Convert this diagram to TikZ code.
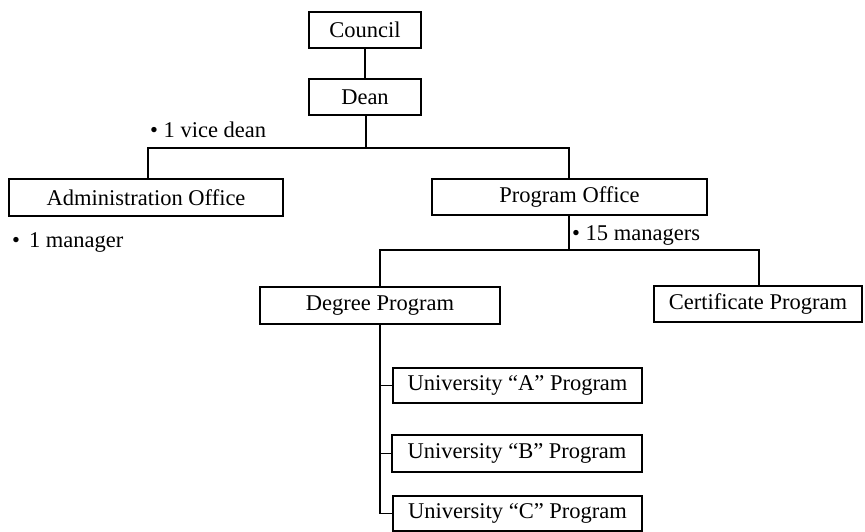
\documentclass[tikz,border=0pt]{standalone}
\usepackage{fontspec}
\setmainfont{Liberation Serif}
\begin{document}
\begin{tikzpicture}[x=1pt,y=-1pt,
  orgbox/.style={draw, line width=1.2pt, inner sep=0pt, align=center,
    font=\fontsize{22.5}{27}\selectfont},
  note/.style={inner sep=0pt, anchor=base west, font=\fontsize{22.5}{27}\selectfont},
  link/.style={line width=1.8pt}]
\useasboundingbox (0,0) rectangle (865,532);

% boxes
\node[orgbox, minimum width=112pt, minimum height=36pt] (council) at (365,30) {Council};
\node[orgbox, minimum width=112pt, minimum height=36pt] (dean) at (365,97) {Dean};
\node[orgbox, minimum width=274pt, minimum height=37pt] (admin) at (146,197.5) {Administration Office};
\node[orgbox, minimum width=275pt, minimum height=36pt] (progoff) at (569.5,197) {Program Office};
\node[orgbox, minimum width=240pt, minimum height=37pt] (degree) at (380,305.5) {Degree Program};
\node[orgbox, minimum width=208pt, minimum height=36pt] (cert) at (758,304) {Certificate Program};
\node[orgbox, minimum width=249pt, minimum height=35pt] (ua) at (517.5,385.5) {University “A” Program};
\node[orgbox, minimum width=250pt, minimum height=37pt] (ub) at (517,453.5) {University “B” Program};
\node[orgbox, minimum width=249pt, minimum height=35pt] (uc) at (517.5,513.5) {University “C” Program};

% notes
\node[note] (vicedean) at (150,138) {• 1 vice dean};
\node[note] (mgr1) at (12,247) {•\hspace{9pt}1 manager};
\node[note] (mgr15) at (572,240) {• 15 managers};

% bus junctions
\coordinate (bus1) at (366,148);
\coordinate (bus2) at (569,250);

% connectors
\draw[link] (council) -- (dean);
\draw[link] (dean.south -| bus1) -- (bus1);
\draw[link] ([xshift=2pt]admin.north) |- (bus1) -| (progoff.north -| bus2);
\draw[link] (progoff.south -| bus2) -- (bus2);
\draw[link] (degree.north) |- (bus2) -| ([xshift=1pt]cert.north);
\draw[link] (degree.south) |- (uc.west);
\draw[link] (degree.south |- ua.west) -- (ua.west);
\draw[link] (degree.south |- ub.west) -- (ub.west);
\end{tikzpicture}
\end{document}
